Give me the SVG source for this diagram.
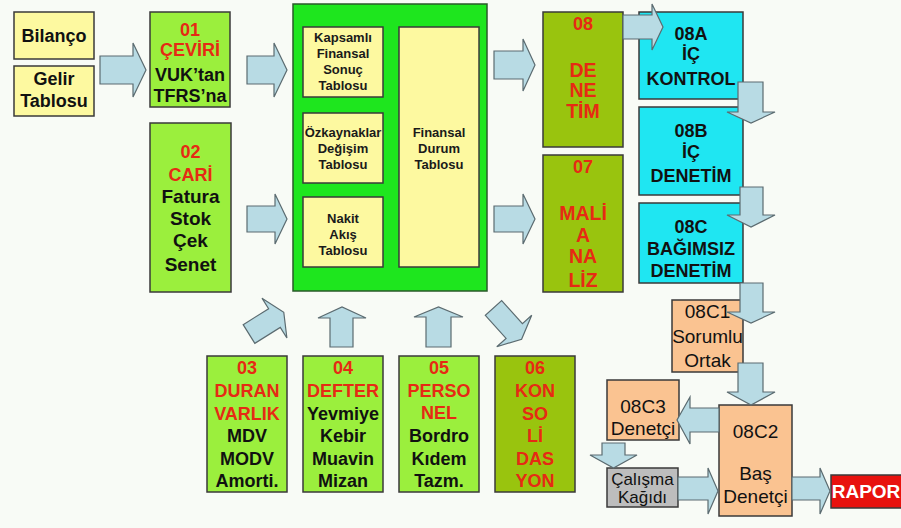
<svg xmlns="http://www.w3.org/2000/svg" width="901" height="528" viewBox="0 0 901 528">
<style>
.b{stroke:#3a3a3a;stroke-width:1.5}
.yl{fill:#fdf9a0}
.lm{fill:#9bef3d}
.gr{fill:#1ee61e;stroke:#2a5a2a;stroke-width:1.5}
.ol{fill:#99c40e}
.cy{fill:#1fe6f2}
.pc{fill:#fac391}
.gy{fill:#bdbdbd}
.rd{fill:#e8120e}
text{font-family:"Liberation Sans",Arial,sans-serif;text-anchor:middle}
.t{font-weight:bold;font-size:18px;fill:#111}
.t2{font-weight:bold;font-size:19px;fill:#111}
.r{font-weight:bold;font-size:18px;fill:#e62a14}
.r2{font-weight:bold;font-size:19.5px;fill:#e62a14}
.s{font-weight:bold;font-size:13px;fill:#1a1a1a}
.n{font-size:19px;fill:#111}
.n2{font-size:17px;fill:#111}
.w{font-weight:bold;font-size:19px;fill:#fff}
.ar{fill:#b8dbe4;stroke:#5b6b70;stroke-width:1.2;stroke-linejoin:miter}
</style>
<rect width="901" height="528" fill="#f8fbf6"/>

<g id="bilanco"><rect class="b yl" x="14" y="12" width="80" height="47"/><text class="t" x="54" y="42">Bilanço</text></g>
<g id="gelir"><rect class="b yl" x="14" y="66" width="80" height="50"/><text class="t" x="54" y="85">Gelir</text><text class="t" x="54" y="107">Tablosu</text></g>

<g id="n01"><rect class="b lm" x="150" y="12" width="80" height="95"/>
<text class="r" x="190" y="36">01</text><text class="r" x="190" y="56">ÇEVİRİ</text><text class="t" x="190" y="81">VUK’tan</text><text class="t" x="190" y="102">TFRS’na</text></g>

<g id="n02"><rect class="b lm" x="150" y="123" width="81" height="169"/>
<text class="r" x="190.5" y="158">02</text><text class="r" x="190.5" y="181">CARİ</text><text class="t2" x="190.5" y="203">Fatura</text><text class="t2" x="190.5" y="225">Stok</text><text class="t2" x="190.5" y="247">Çek</text><text class="t2" x="190.5" y="271">Senet</text></g>

<g id="tablolar"><rect class="gr" x="293" y="4" width="194" height="287"/>
<g id="kapsamli"><rect class="b yl" x="303" y="27" width="80" height="70"/><text class="s" x="343" y="42">Kapsamlı</text><text class="s" x="343" y="58">Finansal</text><text class="s" x="343" y="74">Sonuç</text><text class="s" x="343" y="90">Tablosu</text></g>
<g id="ozkaynaklar"><rect class="b yl" x="303" y="113" width="80" height="70"/><text class="s" x="343" y="137">Özkaynaklar</text><text class="s" x="343" y="153">Değişim</text><text class="s" x="343" y="169">Tablosu</text></g>
<g id="nakit"><rect class="b yl" x="303" y="197" width="80" height="70"/><text class="s" x="343" y="223">Nakit</text><text class="s" x="343" y="239">Akış</text><text class="s" x="343" y="255">Tablosu</text></g>
<g id="finansal"><rect class="b yl" x="399" y="27" width="80" height="240"/><text class="s" x="439" y="137">Finansal</text><text class="s" x="439" y="153">Durum</text><text class="s" x="439" y="169">Tablosu</text></g>
</g>

<g id="n08"><rect class="b ol" x="543" y="12" width="80" height="135"/>
<text class="r" x="583" y="30">08</text><text class="r2" x="583" y="77">DE</text><text class="r2" x="583" y="97">NE</text><text class="r2" x="583" y="118">TİM</text></g>

<g id="n07"><rect class="b ol" x="543" y="155" width="80" height="137"/>
<text class="r" x="583" y="173">07</text><text class="r2" x="583" y="220">MALİ</text><text class="r2" x="583" y="242">A</text><text class="r2" x="583" y="263">NA</text><text class="r2" x="583" y="287">LİZ</text></g>

<g id="n08a"><rect class="b cy" x="639" y="12" width="104" height="87"/>
<text class="t" x="691" y="40">08A</text><text class="t" x="691" y="60">İÇ</text><text class="t" x="691" y="85">KONTROL</text></g>
<g id="n08b"><rect class="b cy" x="639" y="107" width="104" height="88"/>
<text class="t" x="691" y="137">08B</text><text class="t" x="691" y="158">İÇ</text><text class="t" x="691" y="182">DENETİM</text></g>
<g id="n08c"><rect class="b cy" x="639" y="203" width="104" height="80"/>
<text class="t" x="691" y="233">08C</text><text class="t" x="691" y="255">BAĞIMSIZ</text><text class="t" x="691" y="277">DENETİM</text></g>

<g id="n08c1"><rect class="b pc" x="672" y="300" width="71" height="72"/>
<text class="n" x="707.5" y="318">08C1</text><text class="n" x="707.5" y="343">Sorumlu</text><text class="n" x="707.5" y="367">Ortak</text></g>
<g id="n08c2"><rect class="b pc" x="719" y="405" width="73" height="111"/>
<text class="n" x="755.5" y="438">08C2</text><text class="n" x="755.5" y="480">Baş</text><text class="n" x="755.5" y="503">Denetçi</text></g>
<g id="n08c3"><rect class="b pc" x="607" y="380" width="72" height="60"/>
<text class="n" x="643" y="413">08C3</text><text class="n" x="643" y="435">Denetçi</text></g>
<g id="calisma"><rect class="b gy" x="607" y="468" width="71" height="39"/>
<text class="n2" x="642.5" y="485">Çalışma</text><text class="n2" x="642.5" y="503">Kağıdı</text></g>
<g id="rapor"><rect class="b rd" x="831" y="475" width="72" height="33"/>
<text class="w" x="866" y="498">RAPOR</text></g>

<g id="n03"><rect class="b lm" x="207" y="356" width="80" height="136"/>
<text class="r" x="247" y="374">03</text><text class="r" x="247" y="397">DURAN</text><text class="r" x="247" y="420">VARLIK</text><text class="t" x="247" y="442">MDV</text><text class="t" x="247" y="465">MODV</text><text class="t" x="247" y="487">Amorti.</text></g>
<g id="n04"><rect class="b lm" x="303" y="356" width="80" height="136"/>
<text class="r" x="343" y="374">04</text><text class="r" x="343" y="397">DEFTER</text><text class="t" x="343" y="420">Yevmiye</text><text class="t" x="343" y="442">Kebir</text><text class="t" x="343" y="465">Muavin</text><text class="t" x="343" y="487">Mizan</text></g>
<g id="n05"><rect class="b lm" x="399" y="356" width="80" height="136"/>
<text class="r" x="439" y="374">05</text><text class="r" x="439" y="397">PERSO</text><text class="r" x="439" y="419">NEL</text><text class="t" x="439" y="442">Bordro</text><text class="t" x="439" y="465">Kıdem</text><text class="t" x="439" y="487">Tazm.</text></g>
<g id="n06"><rect class="b ol" x="495" y="356" width="80" height="136"/>
<text class="r" x="535" y="374">06</text><text class="r" x="535" y="397">KON</text><text class="r" x="535" y="420">SO</text><text class="r" x="535" y="442">Lİ</text><text class="r" x="535" y="465">DAS</text><text class="r" x="535" y="487">YON</text></g>

<g id="connectors">
<polygon class="ar" points="100,56 133,56 133,43 146,70 133,97 133,84 100,84"/>
<polygon class="ar" points="247,56 274,56 274,43 287,70 274,97 274,84 247,84"/>
<polygon class="ar" points="247,206 275,206 275,194 287,219 275,244 275,232 247,232"/>
<polygon class="ar" points="494,51 523,51 523,39 535,65 523,91 523,79 494,79"/>
<polygon class="ar" points="494,206 523,206 523,194 535,219 523,244 523,232 494,232"/>
<polygon class="ar" points="623,15 652,15 652,4 663,27 652,50 652,39 623,39"/>
<polygon class="ar" points="738,82 763,82 763,112 775,112 751,123 727,112 738,112"/>
<polygon class="ar" points="740,187 763,187 763,215 775,215 751,227 727,215 740,215"/>
<polygon class="ar" points="740,283 763,283 763,312 775,312 751,323 727,312 740,312"/>
<polygon class="ar" points="738,363 763,363 763,392 775,392 751,405 727,392 738,392"/>
<polygon class="ar" points="719,408 690,408 690,397 677,420 690,444 690,432 719,432"/>
<polygon class="ar" points="602,443 625,443 625,455 637,455 613.5,468 590,455 602,455"/>
<polygon class="ar" points="678,477 708,477 708,468 718,491 708,514 708,500 678,500"/>
<polygon class="ar" points="792,477 820,477 820,468 830,491 820,514 820,500 792,500"/>
<polygon class="ar" points="330,347 330,318 318,318 342,307 366,318 353,318 353,347"/>
<polygon class="ar" points="426,347 426,317 414,317 438.5,307 463,317 451,317 451,347"/>
<polygon class="ar" points="0,-11 30,-11 30,-23.5 41,0 30,23.5 30,11 0,11" transform="translate(249,334) rotate(-32)"/>
<polygon class="ar" points="0,-11 31,-11 31,-23.5 42,0 31,23.5 31,11 0,11" transform="translate(493.5,308) rotate(48)"/>
</g>
</svg>
